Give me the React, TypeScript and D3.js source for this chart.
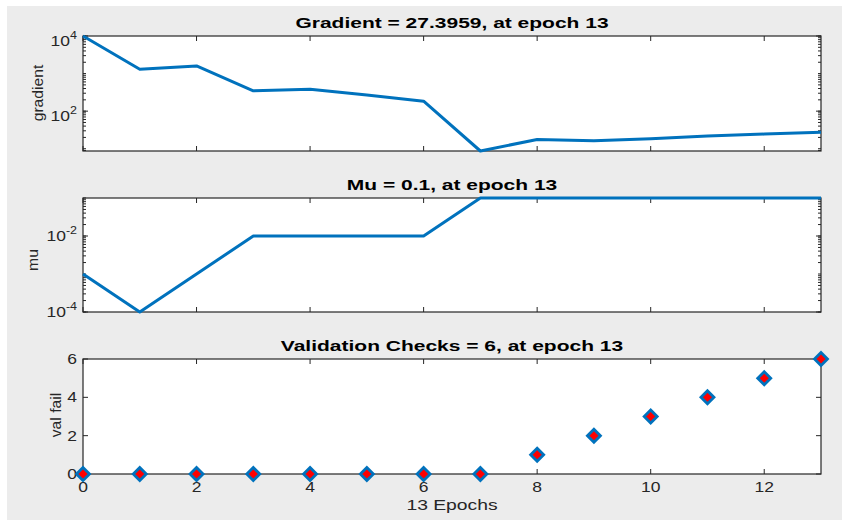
import React from "react";
import * as d3 from "d3";

const epochs = [0, 1, 2, 3, 4, 5, 6, 7, 8, 9, 10, 11, 12, 13];
const gradientValues = [10000, 1300, 1600, 347, 384, 270, 184, 8.7, 17.7, 16.3, 18.4, 21.7, 24.5, 27.3959];
const muValues = [1e-3, 1e-4, 1e-3, 1e-2, 1e-2, 1e-2, 1e-2, 0.1, 0.1, 0.1, 0.1, 0.1, 0.1, 0.1];
const valFailValues = [0, 0, 0, 0, 0, 0, 0, 0, 1, 2, 3, 4, 5, 6];
const xTickValues = [0, 2, 4, 6, 8, 10, 12];
const valTickValues = [0, 2, 4, 6];
const gradientMajorExp = [2, 4];
const muMajorExp = [-4, -2];
const titles = [
  "Gradient = 27.3959, at epoch 13",
  "Mu = 0.1, at epoch 13",
  "Validation Checks = 6, at epoch 13",
];
const yLabels = ["gradient", "mu", "val fail"];
const xLabel = "13 Epochs";

const W = 842;
const H = 520;
const LEFT = 83;
const RIGHT = 821;
const P1 = [36, 151];
const P2 = [198, 312];
const P3 = [359, 474];
const AX = "#262626";
const BLUE = "#0072BD";
const FONT = "Arial, 'Liberation Sans', Helvetica, sans-serif";
const SX_TICK = 1.25;
const SX_TITLE = 1.4;

const x = d3.scaleLinear().domain([0, 13]).range([LEFT, RIGHT]);

function logMinor(domain: number[]) {
  const [lo, hi] = domain;
  const out: number[] = [];
  for (let e = Math.floor(Math.log10(lo)); e <= Math.ceil(Math.log10(hi)); e++) {
    for (let k = 1; k <= 9; k++) {
      const v = k * Math.pow(10, e);
      if (v >= lo * 0.9999 && v <= hi * 1.0001) out.push(v);
    }
  }
  return out;
}

function Frame({ top, bottom }: { top: number; bottom: number }) {
  return (
    <g>
      <rect x={LEFT} y={top} width={RIGHT - LEFT} height={bottom - top} fill="#ffffff" />
      {xTickValues.map((t) => (
        <g key={t}>
          <line x1={x(t)} x2={x(t)} y1={bottom} y2={bottom - 5} stroke={AX} strokeWidth={1} />
          <line x1={x(t)} x2={x(t)} y1={top} y2={top + 5} stroke={AX} strokeWidth={1} />
        </g>
      ))}
    </g>
  );
}

function Box({ top, bottom }: { top: number; bottom: number }) {
  return (
    <rect x={LEFT} y={top} width={RIGHT - LEFT} height={bottom - top} fill="none" stroke={AX} strokeWidth={1.2} />
  );
}

function Title({ text, y }: { text: string; y: number }) {
  return (
    <text
      transform={`translate(${(LEFT + RIGHT) / 2},${y}) scale(${SX_TITLE},1)`}
      textAnchor="middle"
      fontFamily={FONT}
      fontWeight="bold"
      fontSize={15}
      fill="#000"
    >
      {text}
    </text>
  );
}

function YLabel({ text, cx, cy }: { text: string; cx: number; cy: number }) {
  return (
    <text
      transform={`translate(${cx},${cy}) rotate(-90) scale(1.12,1)`}
      textAnchor="middle"
      dominantBaseline="central"
      fontFamily={FONT}
      fontSize={14}
      fill={AX}
    >
      {text}
    </text>
  );
}

function LogPanel({
  values,
  top,
  bottom,
  majors,
  labelOffset,
  title,
  ylabel,
  ylabelX,
  ylabelY,
}: {
  values: number[];
  top: number;
  bottom: number;
  majors: number[];
  labelOffset: number;
  title: string;
  ylabel: string;
  ylabelX: number;
  ylabelY: number;
}) {
  const ext = d3.extent(values) as [number, number];
  const y = d3.scaleLog().domain(ext).range([bottom, top]);
  const minor = logMinor(ext);
  const line = d3
    .line<number>()
    .x((_, i) => x(epochs[i]))
    .y((d) => y(d));
  return (
    <g>
      <Frame top={top} bottom={bottom} />
      {minor.map((v, i) => (
        <g key={i}>
          <line x1={LEFT} x2={LEFT + 3} y1={y(v)} y2={y(v)} stroke={AX} strokeWidth={1} />
          <line x1={RIGHT} x2={RIGHT - 3} y1={y(v)} y2={y(v)} stroke={AX} strokeWidth={1} />
        </g>
      ))}
      {majors.map((e) => {
        const yy = y(Math.pow(10, e));
        return (
          <g key={e}>
            <line x1={LEFT} x2={LEFT + 5} y1={yy} y2={yy} stroke={AX} strokeWidth={1} />
            <line x1={RIGHT} x2={RIGHT - 5} y1={yy} y2={yy} stroke={AX} strokeWidth={1} />
            <text
              transform={`translate(${LEFT - 6},${yy + labelOffset}) scale(${SX_TICK},1)`}
              textAnchor="end"
              fontFamily={FONT}
              fontSize={14}
              fill={AX}
            >
              10
              <tspan fontSize={10} dy={-7}>
                {String(e)}
              </tspan>
            </text>
          </g>
        );
      })}
      <Box top={top} bottom={bottom} />
      <path d={line(values) || ""} fill="none" stroke={BLUE} strokeWidth={3} strokeLinejoin="round" />
      <Title text={title} y={top - 8} />
      <YLabel text={ylabel} cx={ylabelX} cy={ylabelY} />
    </g>
  );
}

function ValPanel() {
  const [top, bottom] = P3;
  const y = d3.scaleLinear().domain([0, 6]).range([bottom, top]);
  const diamond = (cx: number, cy: number) => {
    const r = 6.5;
    return `M${cx},${cy - r}L${cx + r},${cy}L${cx},${cy + r}L${cx - r},${cy}Z`;
  };
  return (
    <g>
      <Frame top={top} bottom={bottom} />
      {valTickValues.map((t) => (
        <g key={t}>
          <line x1={LEFT} x2={LEFT + 5} y1={y(t)} y2={y(t)} stroke={AX} strokeWidth={1} />
          <line x1={RIGHT} x2={RIGHT - 5} y1={y(t)} y2={y(t)} stroke={AX} strokeWidth={1} />
          <text
            transform={`translate(${LEFT - 6},${y(t) + 5}) scale(${SX_TICK},1)`}
            textAnchor="end"
            fontFamily={FONT}
            fontSize={14}
            fill={AX}
          >
            {t}
          </text>
        </g>
      ))}
      {xTickValues.map((t) => (
        <text
          key={t}
          transform={`translate(${x(t)},${bottom + 18}) scale(${SX_TICK},1)`}
          textAnchor="middle"
          fontFamily={FONT}
          fontSize={14}
          fill={AX}
        >
          {t}
        </text>
      ))}
      <Box top={top} bottom={bottom} />
      {valFailValues.map((v, i) => (
        <path
          key={i}
          d={diamond(x(epochs[i]), y(v))}
          fill="#ff0000"
          stroke={BLUE}
          strokeWidth={2.8}
          strokeLinejoin="miter"
        />
      ))}
      <Title text={titles[2]} y={top - 8} />
      <YLabel text={yLabels[2]} cx={56} cy={415} />
      <text
        transform={`translate(${(LEFT + RIGHT) / 2},${bottom + 36}) scale(1.38,1)`}
        textAnchor="middle"
        fontFamily={FONT}
        fontSize={14}
        fill={AX}
      >
        {xLabel}
      </text>
    </g>
  );
}

export default function App() {
  return (
    <svg
      width={W}
      height={H}
      viewBox={`0 0 ${W} ${H}`}
      style={{ position: "fixed", left: 0, top: 0, display: "block" }}
    >
      <rect x={0} y={0} width={W} height={H} fill="#ffffff" />
      <rect x={7} y={6} width={W - 7} height={H - 6} fill="#ececec" />
      <LogPanel
        values={gradientValues}
        top={P1[0]}
        bottom={P1[1]}
        majors={gradientMajorExp}
        labelOffset={10}
        title={titles[0]}
        ylabel={yLabels[0]}
        ylabelX={38}
        ylabelY={93}
      />
      <LogPanel
        values={muValues}
        top={P2[0]}
        bottom={P2[1]}
        majors={muMajorExp}
        labelOffset={5}
        title={titles[1]}
        ylabel={yLabels[1]}
        ylabelX={33}
        ylabelY={260}
      />
      <ValPanel />
    </svg>
  );
}
